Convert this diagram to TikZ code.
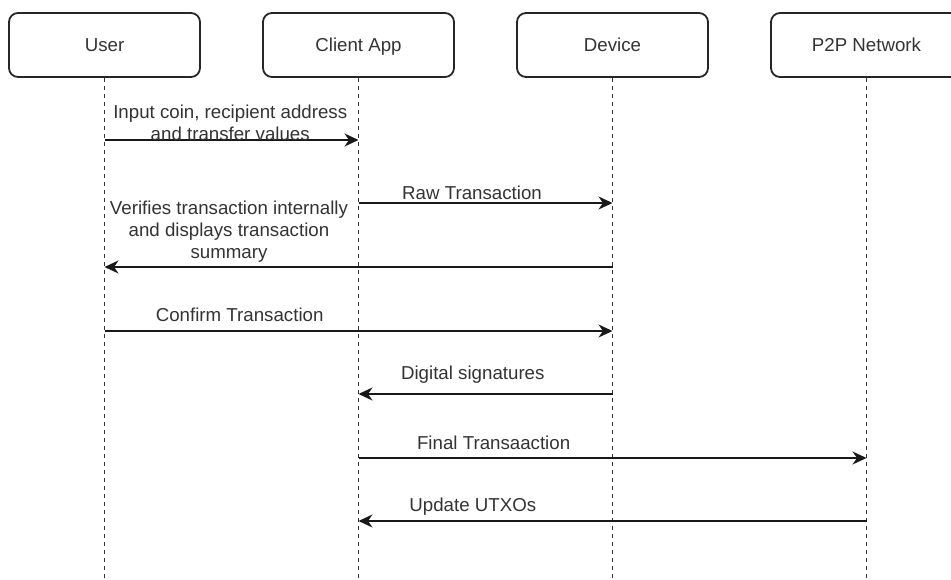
\documentclass[tikz,border=0pt]{standalone}
\usepackage{fontspec}
\setmainfont{Liberation Sans}
\usetikzlibrary{arrows.meta}

\begin{document}
\begin{tikzpicture}[x=1pt, y=-1pt, line width=1.8pt,
    every node/.style = {font=\fontsize{18.7}{22}\selectfont, text=black!80},
    actor/.style = {draw=black!85, rounded corners=9pt, minimum width=191pt, minimum height=64pt, inner sep=0pt, text height=13.5pt, text depth=0pt},
    life/.style = {draw=black!80, line width=1.8pt, dash pattern=on 4pt off 4pt},
    msg/.style = {draw=black!90, -{Stealth[length=14pt, width=13pt, inset=4.5pt]}},
    lbl/.style = {align=center, inner sep=0pt}]
  \useasboundingbox (0,0) rectangle (951,580);

  \node[actor] (user)   at (104.5,45) {User};
  \node[actor] (client) at (358.5,45) {Client App};
  \node[actor] (device) at (612.5,45) {Device};
  \node[actor] (p2p)    at (866.5,45) {P2P Network};

  % lifelines
  \coordinate (bottom) at (0,580);
  \foreach \a in {user, client, device, p2p}
    \draw[life] (\a.south) -- (\a |- bottom);

  % message rows
  \coordinate (m1) at (0,140);
  \coordinate (m2) at (0,203);
  \coordinate (m3) at (0,267);
  \coordinate (m4) at (0,331);
  \coordinate (m5) at (0,394);
  \coordinate (m6) at (0,458);
  \coordinate (m7) at (0,521);

  \draw[msg] (user |- m1) to node [lbl, pos=0.495, anchor=south, yshift=-2pt] {Input coin, recipient address\\and transfer values} (client |- m1);
  \draw[msg] (client |- m2) to node [lbl, pos=0.447, anchor=base, yshift=3.5pt] {Raw Transaction} (device |- m2);
  \draw[msg] (device |- m3) to node [lbl, pos=0.755, anchor=south, yshift=4pt] {Verifies transaction internally\\and displays transaction\\summary} (user |- m3);
  \draw[msg] (user |- m4) to node [lbl, pos=0.266, anchor=base, yshift=9pt] {Confirm Transaction} (device |- m4);
  \draw[msg] (device |- m5) to node [lbl, pos=0.55, anchor=base, yshift=15pt] {Digital signatures} (client |- m5);
  \draw[msg] (client |- m6) to node [lbl, pos=0.266, anchor=base, yshift=9pt] {Final Transaaction} (p2p |- m6);
  \draw[msg] (p2p |- m7) to node [lbl, pos=0.775, anchor=base, yshift=10pt] {Update UTXOs} (client |- m7);
\end{tikzpicture}
\end{document}
